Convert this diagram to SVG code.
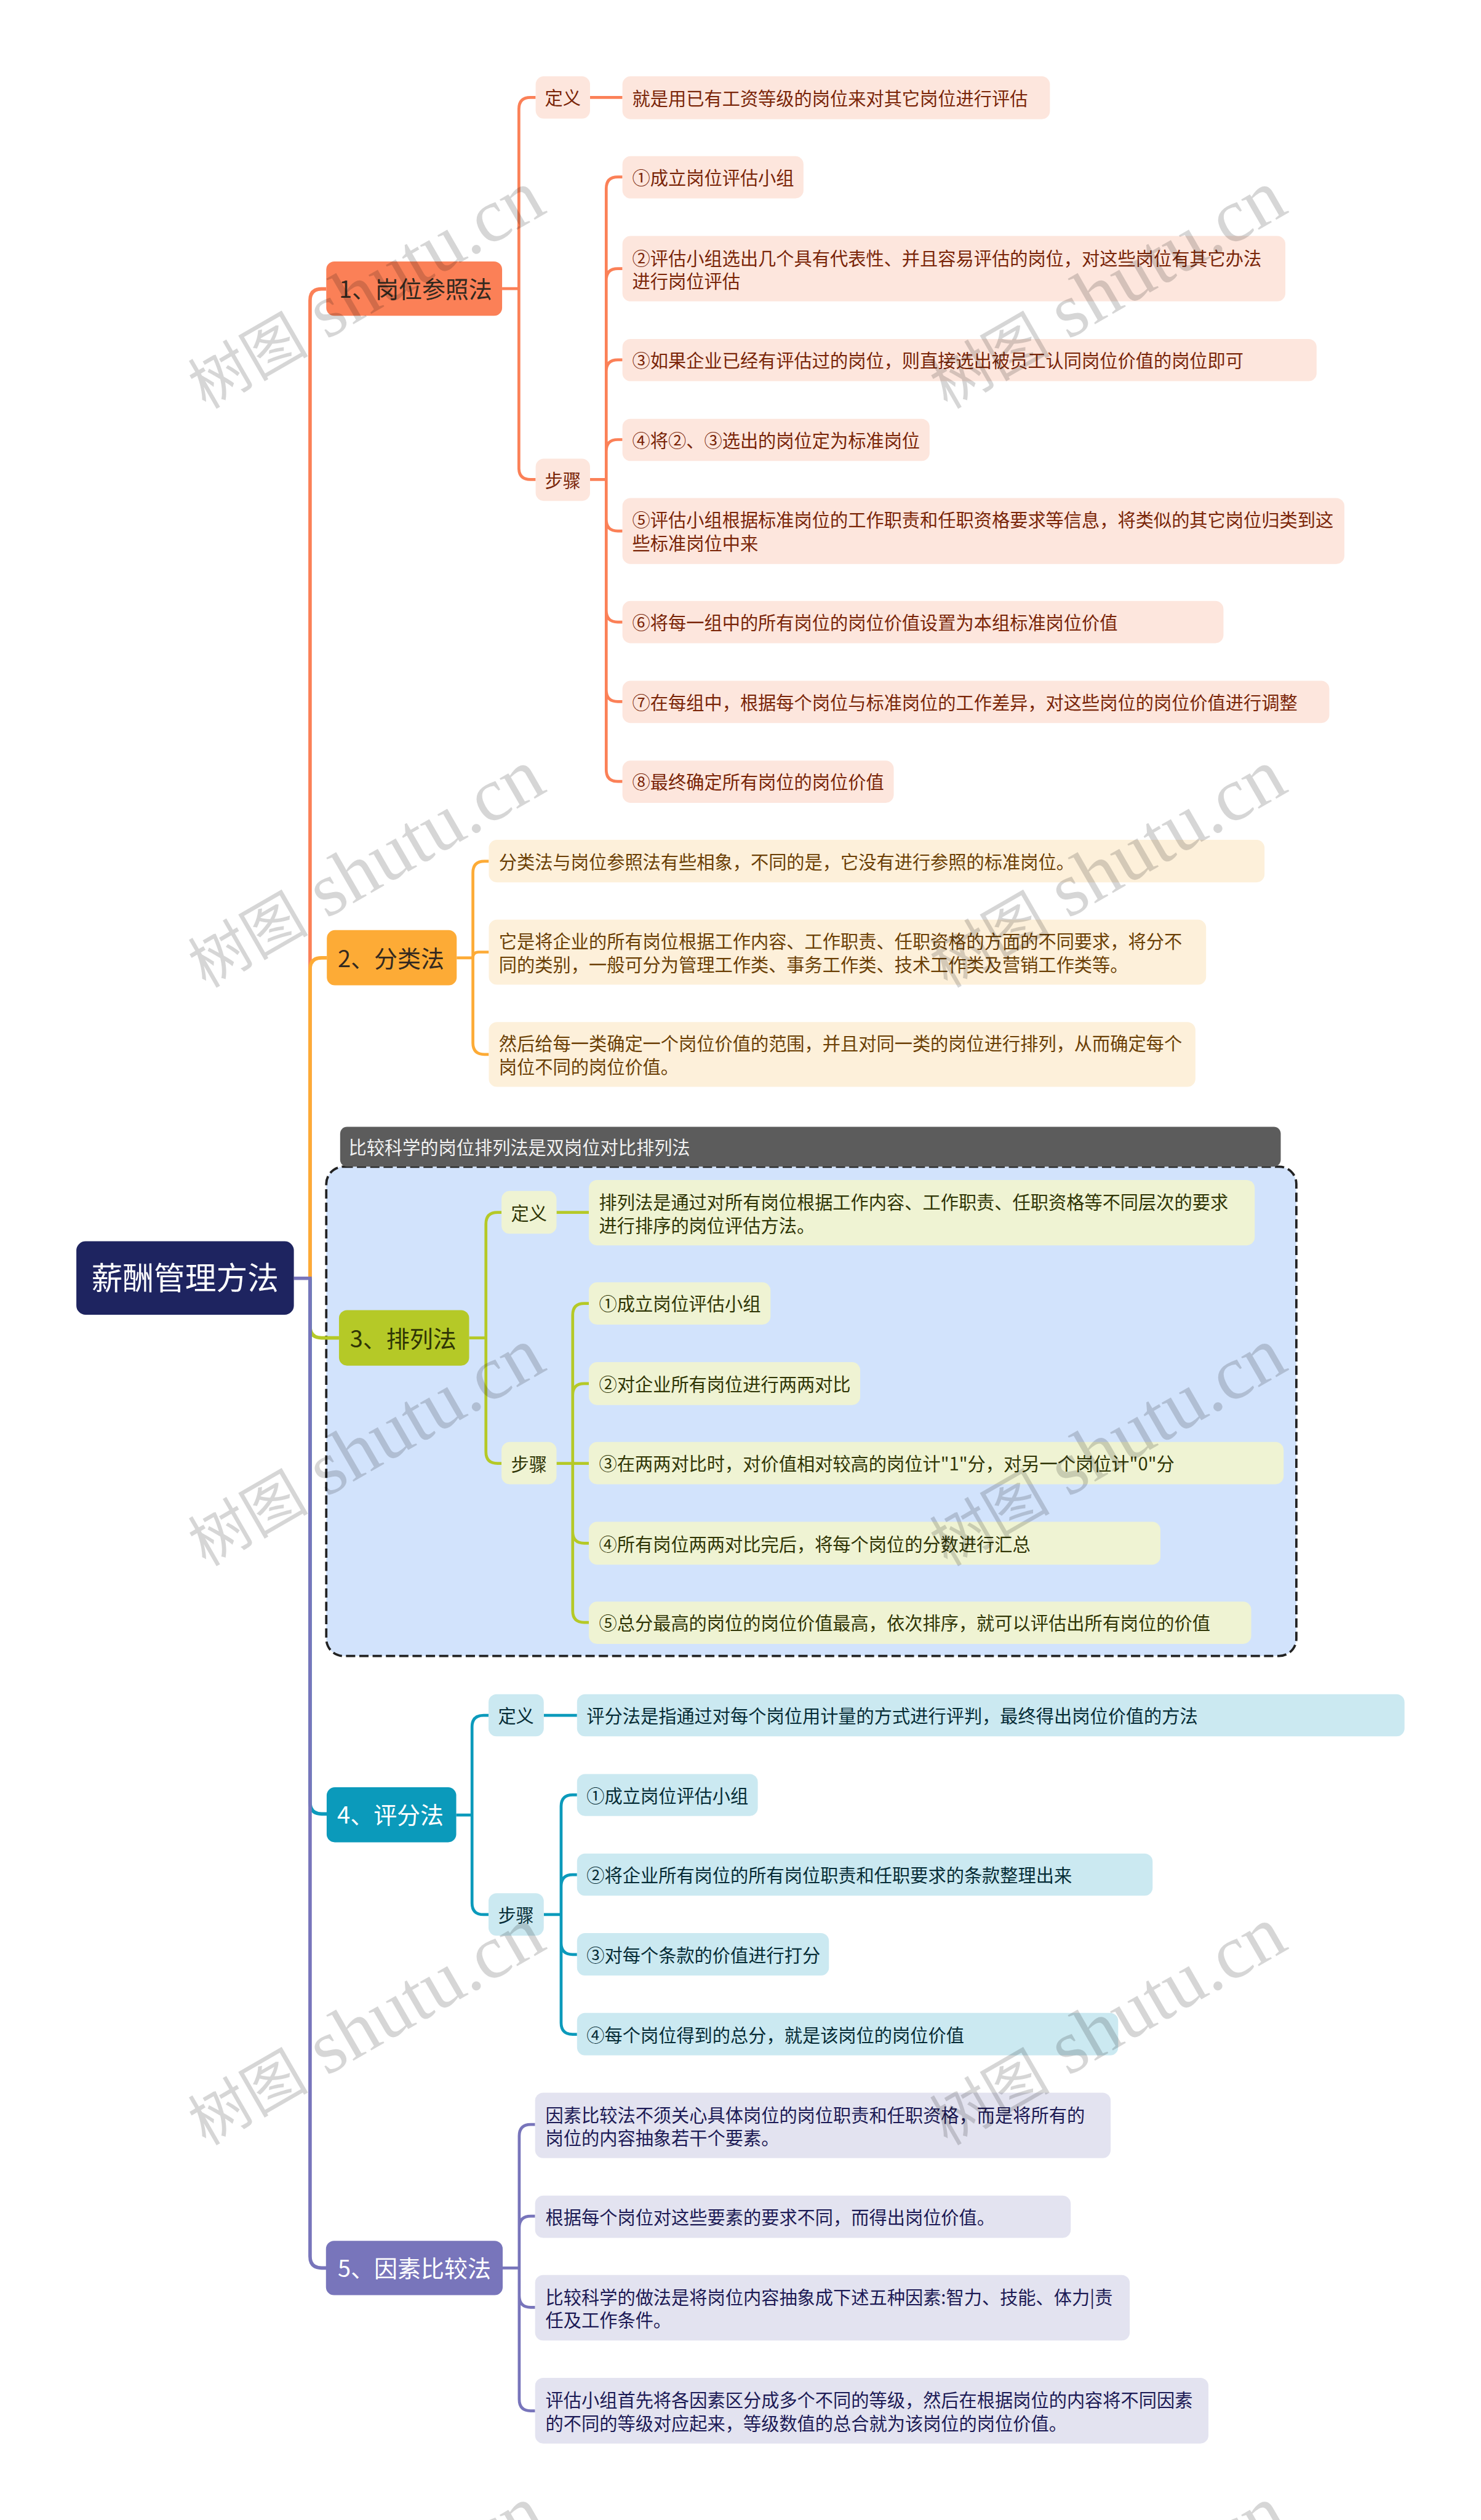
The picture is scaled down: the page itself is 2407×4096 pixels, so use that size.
<svg xmlns="http://www.w3.org/2000/svg" width="2407" height="4096" viewBox="0 0 2407 4096">
<style>
text{font-family:"Noto Sans CJK SC","Liberation Sans",sans-serif;font-size:31.1px;white-space:pre}
g[id]>text{transform:translateY(1px)}
.c{fill:none;stroke-width:5}
.m{stroke-width:6}
.topic{font-size:40.4px}
.mid{text-anchor:middle}
.a1{stroke:#fb8057}.b1{fill:#fb8057}.l1{fill:#fde6dd}.t1{fill:#7a2508}
.a2{stroke:#fdab36}.b2{fill:#fdab36}.l2{fill:#fdf0da}.t2{fill:#6b3f05}
.a3{stroke:#b5c927}.b3{fill:#b5c927}.l3{fill:#eff3d3}.t3{fill:#2f3505}
.a4{stroke:#0b9abb}.b4{fill:#0b9abb}.l4{fill:#cbe9f1}.t4{fill:#062c36}
.a5{stroke:#7875bb}.b5{fill:#7875bb}.l5{fill:#e3e3f0}.t5{fill:#1c1a55}
.d{fill:#33291f}.w{fill:#fff}
.wm text{font-family:"Liberation Serif","Noto Sans CJK SC",serif;font-size:132px;fill:#000;fill-opacity:.16;text-anchor:middle}
.wm tspan{font-size:104px}
</style>
<rect width="2407" height="4096" fill="#fff"/>
<g transform="scale(.94016)">
<g id="boundary-3">
<rect x="564" y="2017" width="1677" height="846" rx="30" fill="#d2e3fc" stroke="#222" stroke-width="4" stroke-dasharray="16 7"/>
<rect x="588" y="1948" width="1626" height="69" rx="12" fill="#5c5c5c"/>
<text x="602.5" y="1994" fill="#f2f2f2">比较科学的岗位排列法是双岗位对比排列法</text>
</g>
<g id="connectors">
<path class="c m a1" d="M536 2210V519.5Q536 499.5 556 499.5H564"/>
<path class="c m a2" d="M536 2210V1676Q536 1656 556 1656H565"/>
<path class="c m a3" d="M536 2210V2293Q536 2313 556 2313H586"/>
<path class="c m a4" d="M536 2210V3116Q536 3136 556 3136H565"/>
<path class="c m a5" d="M508 2210H536V3901Q536 3921 556 3921H564"/>
<path class="c a1" d="M868 499H897M897 499V188.5Q897 168.5 917 168.5H926M897 499V809Q897 829 917 829H926M1020 168.5H1076M1020 829H1048"/>
<path class="c a1" d="M1048 829V326Q1048 306 1068 306H1076M1048 829V484.5Q1048 464.5 1068 464.5H1076M1048 829V642Q1048 622 1068 622H1076M1048 829V780Q1048 760 1068 760H1076M1048 829V898Q1048 918 1068 918H1076M1048 829V1055.5Q1048 1075.5 1068 1075.5H1076M1048 829V1193Q1048 1213 1068 1213H1076M1048 829V1331Q1048 1351 1068 1351H1076"/>
<path class="c a2" d="M789.5 1656H817.5M817.5 1656V1509Q817.5 1489 837.5 1489H845M817.5 1656Q817.5 1646 827.5 1646H845M817.5 1656V1803Q817.5 1823 837.5 1823H845"/>
<path class="c a3" d="M811 2313H840M840 2313V2116Q840 2096 860 2096H867M840 2313V2510Q840 2530 860 2530H867M962 2096H1018M962 2530H1018"/>
<path class="c a3" d="M990 2530V2273.5Q990 2253.5 1010 2253.5H1018M990 2530V2412Q990 2392 1010 2392H1018M990 2530V2648Q990 2668 1010 2668H1018M990 2530V2785Q990 2805 1010 2805H1018"/>
<path class="c a4" d="M788.6 3138H816M816 3138V2985.5Q816 2965.5 836 2965.5H844.5M816 3138V3290Q816 3310 836 3310H844.5M940 2965.5H997.5M940 3310H970"/>
<path class="c a4" d="M970 3310V3123Q970 3103 990 3103H997.5M970 3310V3261Q970 3241 990 3241H997.5M970 3310V3359Q970 3379 990 3379H997.5M970 3310V3497Q970 3517 990 3517H997.5"/>
<path class="c a5" d="M869 3921H897.6M897.6 3921V3693Q897.6 3673 917.6 3673H925M897.6 3921V3851.5Q897.6 3831.5 917.6 3831.5H925M897.6 3921V3969Q897.6 3989 917.6 3989H925M897.6 3921V4148Q897.6 4168 917.6 4168H925"/>
</g>
<g id="root"><rect x="132" y="2146" width="376" height="127" rx="16" fill="#1e2460"/><text class="mid w" x="320" y="2228" style="font-size:54px">薪酬管理方法</text></g>

<g id="topic1"><rect class="b1" x="564" y="452" width="304" height="94" rx="14"/><text class="topic d" x="586" y="514">1、岗位参照法</text></g>
<g id="t1-def"><rect class="l1" x="926" y="132" width="94" height="73" rx="14"/><text class="mid t1" x="973" y="180">定义</text></g>
<g id="t1-step"><rect class="l1" x="926" y="793" width="94" height="73" rx="14"/><text class="mid t1" x="973" y="841">步骤</text></g>
<g id="t1-def-1"><rect class="l1" x="1076" y="132" width="739" height="74" rx="14"/><text class="t1" x="1093" y="181">就是用已有工资等级的岗位来对其它岗位进行评估</text></g>
<g id="t1-s1"><rect class="l1" x="1076" y="270" width="313" height="73" rx="14"/><text class="t1" x="1093" y="318">①成立岗位评估小组</text></g>
<g id="t1-s2"><rect class="l1" x="1076" y="408" width="1146" height="113" rx="14"/><text class="t1" x="1093" y="457">②评估小组选出几个具有代表性、并且容易评估的岗位，对这些岗位有其它办法</text><text class="t1" x="1093" y="497">进行岗位评估</text></g>
<g id="t1-s3"><rect class="l1" x="1076" y="586" width="1200" height="73" rx="14"/><text class="t1" x="1093" y="634">③如果企业已经有评估过的岗位，则直接选出被员工认同岗位价值的岗位即可</text></g>
<g id="t1-s4"><rect class="l1" x="1076" y="724" width="531" height="73" rx="14"/><text class="t1" x="1093" y="772">④将②、③选出的岗位定为标准岗位</text></g>
<g id="t1-s5"><rect class="l1" x="1076" y="861" width="1248" height="114" rx="14"/><text class="t1" x="1093" y="910">⑤评估小组根据标准岗位的工作职责和任职资格要求等信息，将类似的其它岗位归类到这</text><text class="t1" x="1093" y="950">些标准岗位中来</text></g>
<g id="t1-s6"><rect class="l1" x="1076" y="1039" width="1039" height="73" rx="14"/><text class="t1" x="1093" y="1087">⑥将每一组中的所有岗位的岗位价值设置为本组标准岗位价值</text></g>
<g id="t1-s7"><rect class="l1" x="1076" y="1177" width="1222" height="73" rx="14"/><text class="t1" x="1093" y="1225">⑦在每组中，根据每个岗位与标准岗位的工作差异，对这些岗位的岗位价值进行调整</text></g>
<g id="t1-s8"><rect class="l1" x="1076" y="1315" width="469" height="73" rx="14"/><text class="t1" x="1093" y="1363">⑧最终确定所有岗位的岗位价值</text></g>

<g id="topic2"><rect class="b2" x="565" y="1608" width="224.500" height="95.500" rx="14"/><text class="topic d" x="584" y="1671">2、分类法</text></g>
<g id="t2-1"><rect class="l2" x="845" y="1452" width="1341" height="73.500" rx="14"/><text class="t2" x="862.500" y="1501">分类法与岗位参照法有些相象，不同的是，它没有进行参照的标准岗位。</text></g>
<g id="t2-2"><rect class="l2" x="845" y="1590" width="1240" height="112.500" rx="14"/><text class="t2" x="862.500" y="1638">它是将企业的所有岗位根据工作内容、工作职责、任职资格的方面的不同要求，将分不</text><text class="t2" x="862.500" y="1678">同的类别，一般可分为管理工作类、事务工作类、技术工作类及营销工作类等。</text></g>
<g id="t2-3"><rect class="l2" x="845" y="1767" width="1221.500" height="112" rx="14"/><text class="t2" x="862.500" y="1815">然后给每一类确定一个岗位价值的范围，并且对同一类的岗位进行排列，从而确定每个</text><text class="t2" x="862.500" y="1855">岗位不同的岗位价值。</text></g>

<g id="topic3"><rect class="b3" x="586" y="2265" width="225" height="96" rx="14"/><text class="topic t3" x="605" y="2328">3、排列法</text></g>
<g id="t3-def"><rect class="l3" x="867" y="2059" width="95" height="74" rx="14"/><text class="mid t3" x="914.500" y="2108">定义</text></g>
<g id="t3-step"><rect class="l3" x="867" y="2493" width="95" height="73" rx="14"/><text class="mid t3" x="914.500" y="2542">步骤</text></g>
<g id="t3-def-1"><rect class="l3" x="1018" y="2040" width="1151" height="113" rx="14"/><text class="t3" x="1035.500" y="2089">排列法是通过对所有岗位根据工作内容、工作职责、任职资格等不同层次的要求</text><text class="t3" x="1035.500" y="2129">进行排序的岗位评估方法。</text></g>
<g id="t3-s1"><rect class="l3" x="1018" y="2217" width="314" height="73" rx="14"/><text class="t3" x="1035.500" y="2265">①成立岗位评估小组</text></g>
<g id="t3-s2"><rect class="l3" x="1018" y="2355" width="469" height="74" rx="14"/><text class="t3" x="1035.500" y="2404">②对企业所有岗位进行两两对比</text></g>
<g id="t3-s3"><rect class="l3" x="1018" y="2493" width="1201" height="73" rx="14"/><text class="t3" x="1035.500" y="2541">③在两两对比时，对价值相对较高的岗位计"1"分，对另一个岗位计"0"分</text></g>
<g id="t3-s4"><rect class="l3" x="1018" y="2631" width="988" height="74" rx="14"/><text class="t3" x="1035.500" y="2680">④所有岗位两两对比完后，将每个岗位的分数进行汇总</text></g>
<g id="t3-s5"><rect class="l3" x="1018" y="2769" width="1145" height="73" rx="14"/><text class="t3" x="1035.500" y="2817">⑤总分最高的岗位的岗位价值最高，依次排序，就可以评估出所有岗位的价值</text></g>

<g id="topic4"><rect class="b4" x="564.700" y="3090" width="224" height="95" rx="14"/><text class="topic w" x="583" y="3152">4、评分法</text></g>
<g id="t4-def"><rect class="l4" x="844.500" y="2929" width="95.500" height="73" rx="14"/><text class="mid t4" x="892" y="2977">定义</text></g>
<g id="t4-step"><rect class="l4" x="844.500" y="3273" width="95.500" height="73.500" rx="14"/><text class="mid t4" x="892" y="3322">步骤</text></g>
<g id="t4-def-1"><rect class="l4" x="997.500" y="2929" width="1430.500" height="73" rx="14"/><text class="t4" x="1014" y="2977">评分法是指通过对每个岗位用计量的方式进行评判，最终得出岗位价值的方法</text></g>
<g id="t4-s1"><rect class="l4" x="997.500" y="3067" width="312.500" height="72.500" rx="14"/><text class="t4" x="1014" y="3115">①成立岗位评估小组</text></g>
<g id="t4-s2"><rect class="l4" x="997.500" y="3204.500" width="995" height="73" rx="14"/><text class="t4" x="1014" y="3253">②将企业所有岗位的所有岗位职责和任职要求的条款整理出来</text></g>
<g id="t4-s3"><rect class="l4" x="997.500" y="3342" width="435.500" height="73.500" rx="14"/><text class="t4" x="1014" y="3391">③对每个条款的价值进行打分</text></g>
<g id="t4-s4"><rect class="l4" x="997.500" y="3480" width="935.500" height="73.500" rx="14"/><text class="t4" x="1014" y="3529">④每个岗位得到的总分，就是该岗位的岗位价值</text></g>

<g id="topic5"><rect class="b5" x="563.500" y="3874" width="305.500" height="94" rx="14"/><text class="topic w" x="584" y="3936">5、因素比较法</text></g>
<g id="t5-1"><rect class="l5" x="925" y="3618" width="995" height="113" rx="14"/><text class="t5" x="943" y="3667">因素比较法不须关心具体岗位的岗位职责和任职资格，而是将所有的</text><text class="t5" x="943" y="3707">岗位的内容抽象若干个要素。</text></g>
<g id="t5-2"><rect class="l5" x="925" y="3796" width="926" height="73" rx="14"/><text class="t5" x="943" y="3844">根据每个岗位对这些要素的要求不同，而得出岗位价值。</text></g>
<g id="t5-3"><rect class="l5" x="925" y="3933" width="1028" height="113.500" rx="14"/><text class="t5" x="943" y="3982">比较科学的做法是将岗位内容抽象成下述五种因素:智力、技能、体力|责</text><text class="t5" x="943" y="4022">任及工作条件。</text></g>
<g id="t5-4"><rect class="l5" x="925" y="4111" width="1164" height="113.500" rx="14"/><text class="t5" x="943" y="4160">评估小组首先将各因素区分成多个不同的等级，然后在根据岗位的内容将不同因素</text><text class="t5" x="943" y="4200">的不同的等级对应起来，等级数值的总合就为该岗位的岗位价值。</text></g>

<g class="wm">
<text transform="translate(652 537) rotate(-30)"><tspan>树图</tspan> shutu.cn</text>
<text transform="translate(1934 537) rotate(-30)"><tspan>树图</tspan> shutu.cn</text>
<text transform="translate(652 1538) rotate(-30)"><tspan>树图</tspan> shutu.cn</text>
<text transform="translate(1934 1538) rotate(-30)"><tspan>树图</tspan> shutu.cn</text>
<text transform="translate(652 2538) rotate(-30)"><tspan>树图</tspan> shutu.cn</text>
<text transform="translate(1934 2538) rotate(-30)"><tspan>树图</tspan> shutu.cn</text>
<text transform="translate(652 3539) rotate(-30)"><tspan>树图</tspan> shutu.cn</text>
<text transform="translate(1934 3539) rotate(-30)"><tspan>树图</tspan> shutu.cn</text>
<text transform="translate(652 4540) rotate(-30)"><tspan>树图</tspan> shutu.cn</text>
<text transform="translate(1934 4540) rotate(-30)"><tspan>树图</tspan> shutu.cn</text>
</g>
</g>
</svg>
